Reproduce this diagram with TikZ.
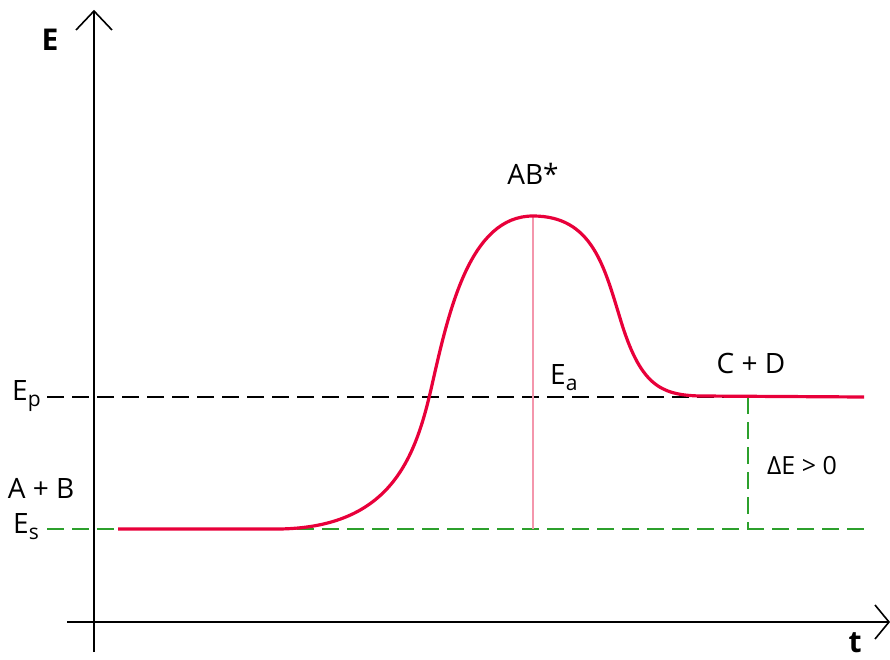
\documentclass[tikz,border=0pt]{standalone}
\usepackage{fontspec}
\setmainfont{Open Sans}
\newcommand{\mysub}[1]{\raisebox{-6pt}{\fontsize{21}{24}\selectfont #1}}
\begin{document}
\begin{tikzpicture}[x=1pt,y=-1pt,
  axis/.style={line width=2pt,black},
  chev/.style={line width=1.6pt,black},
  lbl/.style={inner sep=0pt,font=\fontsize{28}{32}\selectfont},
  ax/.style={inner sep=0pt,font=\fontsize{30}{34}\selectfont\bfseries},
  blackdash/.style={line width=2.3pt,black,dash pattern=on 17pt off 8pt},
  greendash/.style={line width=2.3pt,color={rgb,255:red,44;green,160;blue,44},dash pattern=on 17pt off 8pt},
  curve/.style={line width=3.2pt,color={rgb,255:red,232;green,0;blue,58},line join=round},
  pinkline/.style={line width=1.4pt,color={rgb,255:red,244;green,150;blue,172}}]
\useasboundingbox (0,0) rectangle (890,660);
% axes
\coordinate (ytop) at (94,11);
\coordinate (ybot) at (94,652);
\coordinate (xl) at (67,622);
\coordinate (xr) at (889,622);
\draw[axis] (ybot) -- (ytop);
\draw[chev] (76,30) -- (ytop) -- (112,30);
\draw[axis] (xl) -- (xr);
\draw[chev] (875,605) -- (xr) -- (875,639);
\node[ax] (E) at (50,40) {E};
\node[ax] (t) at (855,643) {t};
% levels
\coordinate (ep1) at (47,397);
\coordinate (ep2) at (866,397);
\coordinate (es1) at (47,529);
\coordinate (es2) at (866,529);
\draw[blackdash] (ep1) -- (ep2);
\draw[greendash] (es1) -- (es2);
% pink vertical
\coordinate (peak) at (533,216);
\coordinate (peakbase) at (533,529);
\draw[pinkline] (peak) -- (peakbase);
% dE
\coordinate (dtop) at (748,397);
\coordinate (dbot) at (748,529);
\draw[greendash] (dtop) -- (dbot);
% curve
\coordinate (c0) at (118,529);
\coordinate (c1) at (270,529);
\coordinate (c2) at (432,385);
\coordinate (c3) at (620,318);
\coordinate (c4) at (700,396);
\coordinate (c5) at (864,397);
\draw[curve] (c0) -- (c1) .. controls (390,531) and (415,460) .. (c2)
  .. controls (449,310) and (470,216) .. (peak)
  .. controls (592,216) and (604,266) .. (c3)
  .. controls (640,385) and (660,395) .. (c4) -- (c5);
% labels
\node[lbl,anchor=base west] (Ep) at (12,400) {E\mysub{p}};
\node[lbl,anchor=base west] (Es) at (13,533) {E\mysub{s}};
\node[lbl] (AB) at (41,488) {A + B};
\node[lbl] (ABs) at (533,174) {AB*};
\node[lbl,anchor=base west] (Ea) at (550,384) {E\mysub{a}};
\node[lbl] (CD) at (751,363) {C + D};
\node[lbl,font=\fontsize{25}{29}\selectfont] (dE) at (802,466) {ΔE > 0};
\end{tikzpicture}
\end{document}
